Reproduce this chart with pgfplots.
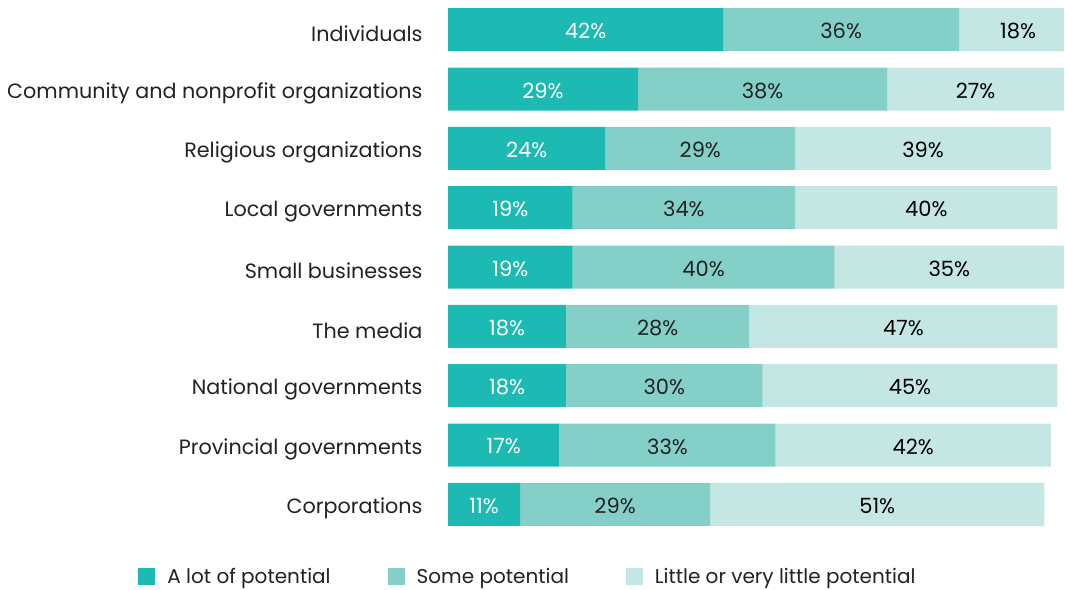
\documentclass[border=0pt]{standalone}
\usepackage{pgfplots}
\usepackage{pgfplotstable}
\pgfplotsset{compat=1.18}
\usepackage{fontspec}
\setmainfont{Poppins}
\definecolor{cA}{HTML}{1CBAB3}
\definecolor{cB}{HTML}{84D0C9}
\definecolor{cC}{HTML}{C4E7E3}
\definecolor{txt}{HTML}{222222}
\pgfplotstableread{
i a b c
0 42 36 18
1 29 38 27
2 24 29 39
3 19 34 40
4 19 40 35
5 18 28 47
6 18 30 45
7 17 33 42
8 11 29 51
}\data
\begin{document}
\begin{tikzpicture}
\useasboundingbox (0,0) rectangle (1065pt,-589pt);
\pgfplotsset{
  base/.style={
    at={(448pt,0pt)}, anchor=north west,
    scale only axis, width=616pt, height=534pt,
    xmin=0, xmax=94, ymin=-0.5, ymax=8.5, y dir=reverse,
  }
}
\begin{axis}[base,
  xbar stacked, bar width=43pt,
  axis line style={draw=none}, xtick=\empty,
  ytick={0,...,8}, major tick length=0pt,
  yticklabels={Individuals,Community and nonprofit organizations,Religious organizations,Local governments,Small businesses,The media,National governments,Provincial governments,Corporations},
  yticklabel style={font=\fontsize{20.7}{24}\selectfont, text=txt, xshift=-22pt, yshift=-4pt},
  legend columns=3,
  legend style={at={(-0.503,-0.079)}, anchor=west, draw=none, font=\fontsize{20}{24}\selectfont, text=txt,
    /tikz/every odd column/.append style={column sep=11pt},
    /tikz/every even column/.append style={column sep=56pt}, inner sep=0pt,
    nodes={inner sep=1pt}},
  legend image code/.code={\fill[#1] (0pt,-8.5pt) rectangle (17pt,8.5pt);},
]
\addplot[fill=cA, draw=none] table[x=a, y=i] {\data};
\addplot[fill=cB, draw=none] table[x=b, y=i] {\data};
\addplot[fill=cC, draw=none] table[x=c, y=i] {\data};
\legend{A lot of potential,Some potential,Little or very little potential}
\end{axis}
\begin{axis}[base, hide axis, clip=false,
  nodes near coords={\pgfplotspointmeta\%}, point meta=explicit symbolic,
  every node near coord/.append style={anchor=center, yshift=-1.5pt, font=\fontsize{21}{24}\selectfont}]
\addplot[only marks, mark=none, nodes near coords style={text=white}] table[x expr=\thisrow{a}/2, y=i, meta=a] {\data};
\addplot[only marks, mark=none, nodes near coords style={text=txt}] table[x expr=\thisrow{a}+\thisrow{b}/2, y=i, meta=b] {\data};
\addplot[only marks, mark=none, nodes near coords style={text=black}] table[x expr=\thisrow{a}+\thisrow{b}+\thisrow{c}/2, y=i, meta=c] {\data};
\end{axis}
\end{tikzpicture}
\end{document}
